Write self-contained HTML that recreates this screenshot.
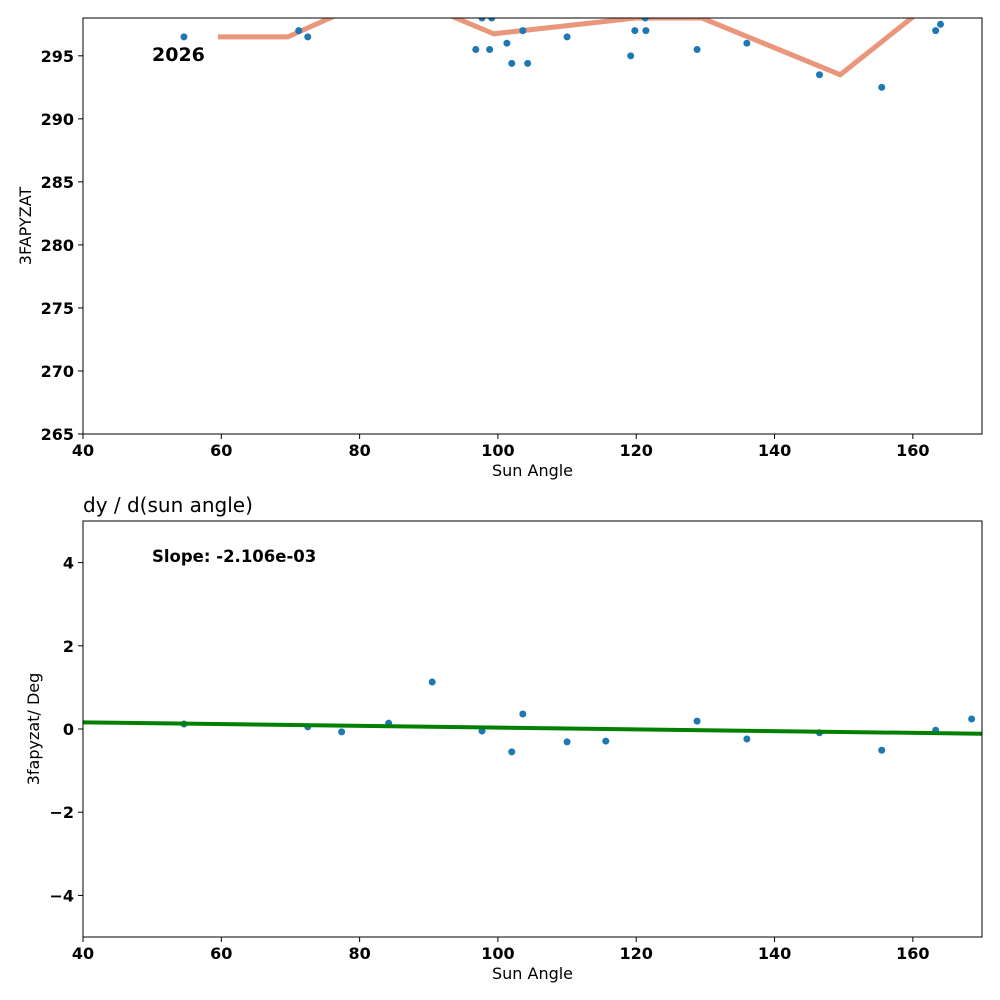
<!DOCTYPE html>
<html><head><meta charset="utf-8"><style>
body{margin:0;background:#fff}
svg{display:block;font-family:"DejaVu Sans","Liberation Sans",sans-serif}
.tk{font-size:16px;font-weight:bold;fill:#000}
.lb{font-size:16px;fill:#000}
</style></head><body>
<svg id="c" width="1000" height="1000" viewBox="0 0 1000 1000"></svg>
<script>
const topPtsX=[54.6,72.5,71.2,96.8,97.7,98.8,99.1,101.3,102.0,103.6,104.3,110.0,119.2,119.8,121.4,121.3,128.8,136.0,146.5,155.5,163.3,164.0];
const topPtsY=[296.5,296.5,297.0,295.5,298,295.5,298,296.0,294.4,297,294.4,296.5,295.0,297.0,297.0,298,295.5,296.0,293.5,292.5,297.0,297.5];
const topLineX=[59.5,69.6,80,90,99.4,120,129.5,149.5,160.5,170];
const topLineY=[296.5,296.5,299.05,298.9,296.75,298,298,293.5,298.3,298.5];
const topYTicks=[265,270,275,280,285,290,295];
const xTicks=[40,60,80,100,120,140,160];
const botPtsX=[54.6,72.5,77.4,84.2,90.5,97.7,102.0,103.6,110.0,115.6,128.8,136.0,146.5,155.5,163.3,168.5];
const botPtsY=[0.12,0.05,-0.07,0.14,1.13,-0.05,-0.55,0.36,-0.31,-0.29,0.19,-0.24,-0.09,-0.51,-0.03,0.24];
const slope=-2.106e-3;
const fitAt40=0.16;
const botYTicks=[-4,-2,0,2,4];

const svg=document.getElementById('c');
const NS='http://www.w3.org/2000/svg';
function mk(t,a,p){const e=document.createElementNS(NS,t);for(const k in a)e.setAttribute(k,a[k]);(p||svg).appendChild(e);return e;}
const L=83,R=982;
const sx=v=>L+(v-40)/130*(R-L);

function panel(top,bot,ymin,ymax,name){
  const sy=v=>bot-(v-ymin)/(ymax-ymin)*(bot-top);
  const g=mk('g',{});
  
  
  const cp=mk('clipPath',{id:'cp'+name},g);
  mk('rect',{x:L,y:top,width:R-L,height:bot-top},cp);
  return {g,sy,top,bot};
}
function axes(p,yt,ylab,name){
  const frame=mk('rect',{x:L,y:p.top,width:R-L,height:p.bot-p.top,fill:'none',stroke:'#000','stroke-width':1},p.g);
  
  
  xTicks.forEach(v=>{
    mk('line',{x1:sx(v),x2:sx(v),y1:p.bot,y2:p.bot+5,stroke:'#000'},p.g);
    const t=mk('text',{x:sx(v),y:p.bot+22,'text-anchor':'middle',class:'tk'},p.g);t.textContent=v;
    
    
  });
  yt.forEach(v=>{
    const y=p.sy(v);
    mk('line',{x1:L-5,x2:L,y1:y,y2:y,stroke:'#000'},p.g);
    const t=mk('text',{x:L-9,y:y+6,'text-anchor':'end',class:'tk'},p.g);t.textContent=(v<0?'\u2212'+(-v):v);
    
    
  });
  const xl=mk('text',{x:(L+R)/2,y:p.bot+42,'text-anchor':'middle',class:'lb'},p.g);xl.textContent='Sun Angle';
  
  
  const cy=(p.top+p.bot)/2;
  const yl=mk('text',{x:0,y:0,'text-anchor':'middle',class:'lb',transform:`translate(${name==='top-panel'?31:39},${cy}) rotate(-90)`},p.g);yl.textContent=ylab;
  
  
}

// top
const p1=panel(18,434,265,298,'top-panel');
const d=topLineX.map((x,i)=>(i?'L':'M')+sx(x)+','+p1.sy(topLineY[i])).join(' ');
const ln=mk('path',{d,fill:'none',stroke:'#e9967a','stroke-width':5,'clip-path':'url(#cptop-panel)'},p1.g);


topPtsX.forEach((x,i)=>{
  const c=mk('circle',{cx:sx(x),cy:p1.sy(topPtsY[i]),r:3.5,fill:'#1f77b4','clip-path':'url(#cptop-panel)'},p1.g);
  
  
});
const yr=mk('text',{x:152,y:61,style:'font-size:19px;font-weight:bold'},p1.g);yr.textContent='2026';


axes(p1,topYTicks,'3FAPYZAT','top-panel');

// bottom
const p2=panel(521,937,-5,5,'bottom-panel');
const ti=mk('text',{x:83,y:512,style:'font-size:20px'},p2.g);ti.textContent='dy / d(sun angle)';


botPtsX.forEach((x,i)=>{
  const c=mk('circle',{cx:sx(x),cy:p2.sy(botPtsY[i]),r:3.5,fill:'#1f77b4'},p2.g);
  
  
});
const fl=mk('line',{x1:sx(40),y1:p2.sy(fitAt40),x2:sx(170),y2:p2.sy(fitAt40+slope*130),stroke:'#008000','stroke-width':4},p2.g);


const st=mk('text',{x:152,y:562,style:'font-size:16.5px;font-weight:bold'},p2.g);st.textContent='Slope: -2.106e-03';


axes(p2,botYTicks,'3fapyzat/ Deg','bottom-panel');
</script>
</body></html>
